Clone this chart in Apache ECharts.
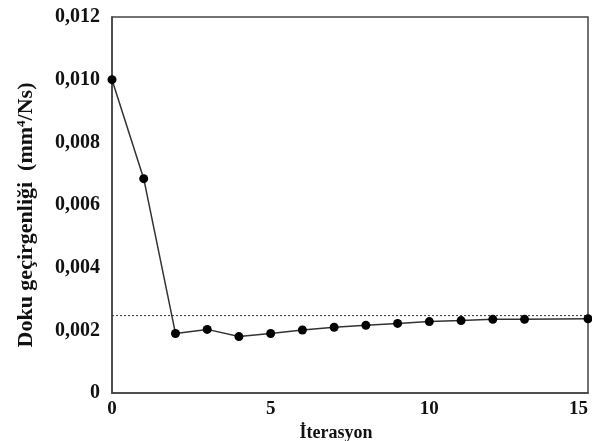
<!DOCTYPE html>
<html><head><meta charset="utf-8">
<script src="https://cdn.jsdelivr.net/npm/echarts@6/dist/echarts.min.js"></script>
<style>html,body{margin:0;padding:0;background:#fff}#c{width:592px;height:441px}</style>
</head><body><div id="c"></div>
<script>
const iterations = [0,1,2,3,4,5,6,7,8,9,10,11,12,13,15];
const permeability = [0.0100,0.00684,0.00190,0.00203,0.00180,0.00190,0.00201,0.00210,0.00216,0.00222,0.00228,0.00231,0.00235,0.00235,0.00237];
const refLevel = 0.00247;
const refRange = [0, 15];
const xTicks = [0,5,10,15];

const chart = echarts.init(document.getElementById('c'));
const font = '"Liberation Serif", "DejaVu Serif", serif';
chart.setOption({
  animation:false,
  backgroundColor:'#fff',
  grid:{left:112,top:17,right:4,bottom:48,show:true,borderColor:'#444',borderWidth:1.5,outerBoundsMode:'none',containLabel:false},
  xAxis:{type:'value',min:0,max:15,interval:5,
    name:'İterasyon',nameLocation:'middle',nameGap:25,
    nameTextStyle:{fontFamily:font,fontWeight:'bold',fontSize:18,color:'#111',padding:[0,28,0,0]},
    axisLine:{show:true,lineStyle:{color:'#444',width:1.5}},axisTick:{show:false},splitLine:{show:false},
    axisLabel:{fontFamily:font,fontWeight:'bold',fontSize:19,color:'#111',margin:7,alignMaxLabel:'right',
      formatter:v=>xTicks.includes(v)?String(v):''}},
  yAxis:{type:'value',min:0,max:0.012,interval:0.002,
    name:'Doku geçirgenliği  (mm{sup|4}/Ns)',nameLocation:'middle',nameGap:74,nameRotate:90,
    nameTextStyle:{fontFamily:font,fontWeight:'bold',fontSize:22,color:'#111',padding:[0,20,0,0],
      rich:{sup:{fontFamily:font,fontWeight:'bold',fontSize:13,verticalAlign:'top',padding:[0,0,10,0]}}},
    axisLine:{show:true,lineStyle:{color:'#444',width:1.5}},axisTick:{show:false},splitLine:{show:false},
    axisLabel:{fontFamily:font,fontWeight:'bold',fontSize:20,color:'#111',margin:12,
      formatter:v=>v===0?'0':v.toFixed(3).replace('.',',')}},
  series:[
    {type:'line',data:refRange.map(x=>[x,refLevel]),symbol:'none',
      lineStyle:{color:'#333',width:1,type:[2,2]},z:1},
    {type:'line',data:iterations.map((x,i)=>[x,permeability[i]]),
      symbol:'circle',symbolSize:9,itemStyle:{color:'#000'},
      lineStyle:{color:'#333',width:1.5},z:2}
  ]
});
</script></body></html>
